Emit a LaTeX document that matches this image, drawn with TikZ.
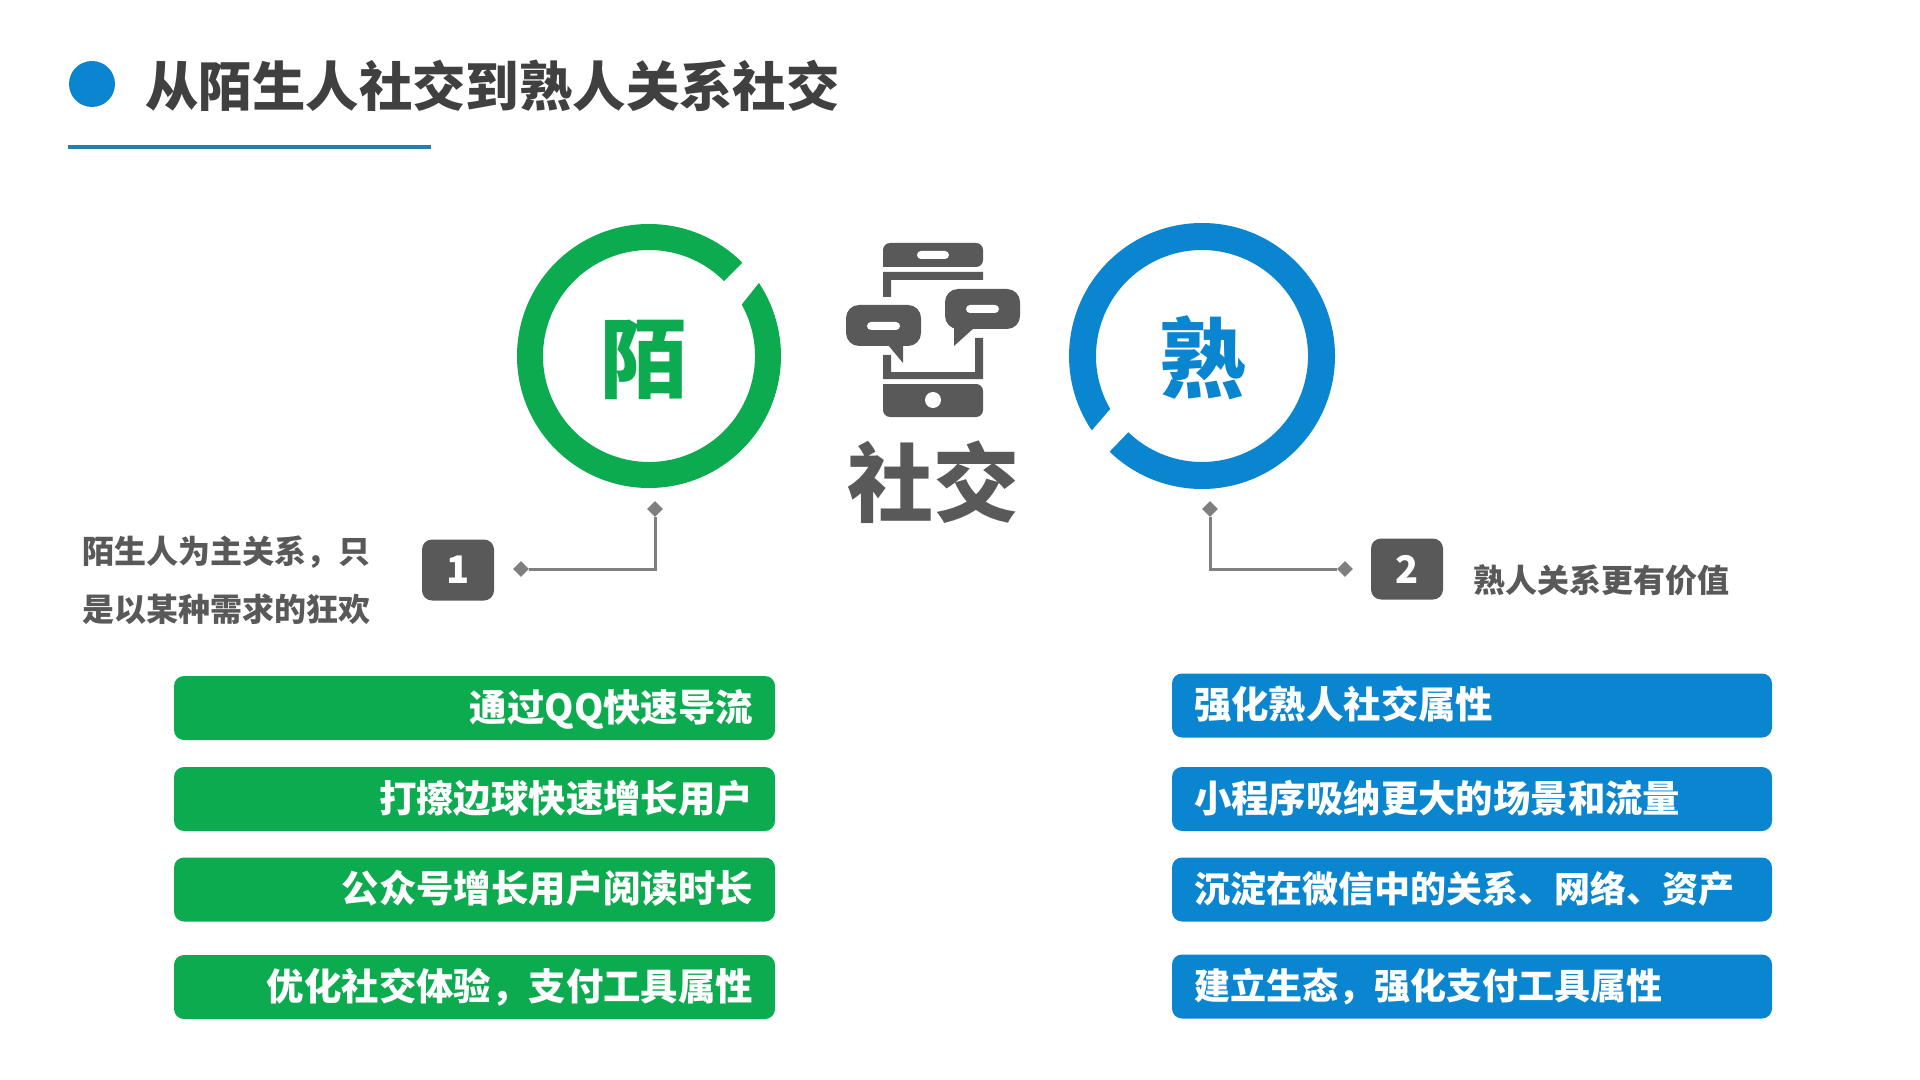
\documentclass[tikz,border=0pt]{standalone}
\usepackage{fontspec}
\setmainfont{Noto Sans CJK SC}
\usetikzlibrary{positioning, shapes.geometric}

\definecolor{mogreen}{HTML}{0CAB50}
\definecolor{shublue}{HTML}{0A85CF}
\definecolor{rulecolor}{HTML}{1F80B4}
\definecolor{darkgrey}{HTML}{595959}
\definecolor{titlegrey}{HTML}{404040}
\definecolor{linkgrey}{HTML}{7F7F7F}

\tikzset{
  bigchar/.style = {font=\bfseries\fontsize{43.5}{43.5}\selectfont, inner sep=0pt},
  bar/.style = {rounded corners=5pt, minimum height=32pt, inner ysep=0pt,
    text height=16.4pt, text depth=3pt, text=white,
    font=\bfseries\fontsize{18.7}{18.7}\selectfont},
  greenbar/.style = {bar, fill=mogreen, inner xsep=11pt, text width=278.5pt, align=right},
  bluebar/.style = {bar, fill=shublue, inner xsep=11pt, text width=278pt, align=left},
  tightbar/.style = {bluebar, font=\bfseries\fontsize{18}{18}\selectfont},
  badge/.style = {fill=darkgrey, rounded corners=5pt, minimum width=36pt, minimum height=30.5pt,
    inner sep=0pt, text=white, font=\bfseries\fontsize{19}{19}\selectfont},
  tip/.style = {diamond, fill=linkgrey, minimum size=8pt, inner sep=0pt},
  link/.style = {draw=linkgrey, line width=1.5pt},
  sidetext/.style = {text=darkgrey, inner sep=0pt, align=left,
    font=\bfseries\fontsize{16}{29}\selectfont},
  phone/.style = {fill=darkgrey},
  slot/.style = {fill=white, rounded corners=2pt},
}

\begin{document}
\begin{tikzpicture}
[x=0.5pt, y=-0.5pt]
\useasboundingbox (0,0) rectangle (1920,1080);

% heading
\node [circle, fill=shublue, minimum size=23pt, inner sep=0pt] (dot) at (92,84) {};
\node [anchor=west, inner sep=0pt, text=titlegrey, font=\bfseries\fontsize{26.7}{26.7}\selectfont]
  (title) at (145,86) {从陌生人社交到熟人关系社交};
\coordinate (rule_l) at (68,147);
\coordinate (rule_r) at (431,147);
\draw [rulecolor, line width=2pt] (rule_l) -- (rule_r);

% the two rings
\coordinate (mo_c) at (649,356);
\coordinate (shu_c) at (1202,356);
\fill [mogreen] ([shift={(45:66pt)}]mo_c) arc [start angle=45, end angle=393.6, radius=66pt]
  -- ([shift={(29:53pt)}]mo_c) arc [start angle=389, end angle=45, radius=53pt] -- cycle;
\fill [shublue] ([shift={(226:66.5pt)}]shu_c) arc [start angle=226, end angle=574, radius=66.5pt]
  -- ([shift={(210:53pt)}]shu_c) arc [start angle=570, end angle=226, radius=53pt] -- cycle;
\node [bigchar, text=mogreen] (mo) at (644,360) {陌};
\node [bigchar, text=shublue] (shu) at (1203,358) {熟};

% phone with the two speech bubbles
\fill [phone, rounded corners=3.5pt] (883,267) -- (883,243) -- (983,243) -- (983,267) [sharp corners] -- cycle;
\fill [slot] (917,251) rectangle (949,259);
\fill [phone] (883,297) -- (883,272) -- (983,272) -- (983,280) -- (891,280) -- (891,297) -- cycle;
\fill [phone] (883,355) -- (883,379) -- (983,379) -- (983,338) -- (975,338) -- (975,372) -- (891,372) -- (891,355) -- cycle;
\fill [phone, rounded corners=3.5pt] (883,384) -- (883,417) -- (983,417) -- (983,384) [sharp corners] -- cycle;
\fill [white] (933,400) circle [radius=4pt];
\fill [phone, rounded corners=6.5pt] (846,305) rectangle (921,346);
\fill [phone] (888,345) -- (903,363) -- (903,345) -- cycle;
\fill [slot] (867,322) rectangle (900,330);
\fill [phone, rounded corners=6.5pt] (945,289) rectangle (1020,329);
\fill [phone] (954,328) -- (954,346) -- (974,328) -- cycle;
\fill [slot] (966,305) rectangle (999,313);
\node [inner sep=0pt, text=darkgrey, font=\bfseries\fontsize{43}{43}\selectfont] (social) at (933.5,482) {社交};

% left note
\node [badge] (badge_a) at (458,570) {1};
\node [tip] (tip_a1) at (655,509) {};
\node [tip] (tip_a2) at (521,569) {};
\draw [link] (tip_a1) |- (tip_a2);
\node [sidetext, anchor=west] (note_a) at (82,580) {陌生人为主关系，只\\是以某种需求的狂欢};

% right note
\node [badge] (badge_b) at (1407,569) {2};
\node [tip] (tip_b1) at (1210,509) {};
\node [tip] (tip_b2) at (1345,569) {};
\draw [link] (tip_b1) |- (tip_b2);
\node [sidetext, anchor=west] (note_b) at (1473,580) {熟人关系更有价值};

% green bars
\node [greenbar] (g1) at (474.5,708) {通过QQ快速导流};
\node [greenbar] (g2) at (474.5,799) {打擦边球快速增长用户};
\node [greenbar] (g3) at (474.5,889.5) {公众号增长用户阅读时长};
\node [greenbar] (g4) at (474.5,987) {优化社交体验，支付工具属性};

% blue bars
\node [bluebar] (b1) at (1472,705.5) {强化熟人社交属性};
\node [bluebar] (b2) at (1472,799) {小程序吸纳更大的场景和流量};
\node [tightbar] (b3) at (1472,889.5) {沉淀在微信中的关系、网络、资产};
\node [tightbar] (b4) at (1472,986.5) {建立生态，强化支付工具属性};

\end{tikzpicture}
\end{document}
